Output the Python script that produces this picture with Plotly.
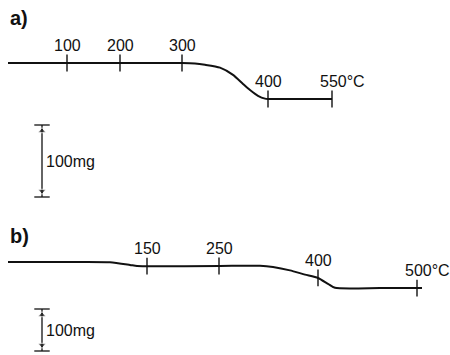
import plotly.graph_objects as go

# ---- thermogravimetric traces (time in min, mass change in mg) ----
# trace a)
a_time = [1.6, 13.4, 24.0, 36.4, 39.0, 41.0, 44.0, 46.6, 48.6, 50.0, 51.6, 53.0, 53.6, 60.0, 66.4]
a_mass = [0.0, 0.0, 0.0, 0.0, -0.7, -2.5, -6.5, -16.5, -29.0, -37.5, -45.5, -49.5, -50.0, -50.0, -50.0]
a_tick_time = [13.4, 24.0, 36.4, 53.6, 66.4]
a_tick_mass = [0.0, 0.0, 0.0, -50.0, -50.0]
a_tick_labels = ["100", "200", "300", "400", "550"]

# trace b)
b_time = [1.6, 12.0, 22.0, 26.0, 27.4, 29.4, 44.0, 52.0, 54.6, 58.0, 61.0, 63.6, 65.6, 67.0, 76.0, 83.4, 84.4]
b_mass = [0.0, 0.0, -0.5, -7.0, -9.5, -10.0, -9.5, -9.0, -12.0, -20.0, -30.0, -38.0, -52.0, -61.5, -62.0, -62.0, -62.0]
b_tick_time = [29.4, 43.8, 63.6, 83.4]
b_tick_mass = [-10.0, -9.5, -38.0, -62.0]
b_tick_labels = ["150", "250", "400", "500"]

scale_bar_mg = 100
unit = "°C"

# ---- page layout (pixels) ----
W, H = 450, 355
SPLIT = 205            # boundary between the two panels
PX_PER_MIN = 5.0
A_ZERO, A_PX_PER_MG = 63.0, 0.72
B_ZERO, B_PX_PER_MG = 262.0, 0.42
A_BAR_TOP, B_BAR_TOP = 125.0, 309.0
BAR_TIME = 8.4

a_range = [-(SPLIT - A_ZERO) / A_PX_PER_MG, A_ZERO / A_PX_PER_MG]
b_range = [-(H - B_ZERO) / B_PX_PER_MG, (B_ZERO - SPLIT) / B_PX_PER_MG]

FONT = "Liberation Sans"
INK = "#111111"

fig = go.Figure()


def add_panel(t, m, tt, tm, labels, yref, zero_px, px_per_mg, bar_top_px):
    fig.add_trace(go.Scatter(
        x=t, y=m, mode="lines", yaxis=yref,
        line=dict(color=INK, width=2, shape="spline", smoothing=0.6),
        hoverinfo="skip", showlegend=False))
    fig.add_trace(go.Scatter(
        x=tt, y=tm, mode="markers", yaxis=yref,
        marker=dict(symbol="line-ns", size=12, line=dict(color=INK, width=1.4)),
        hoverinfo="skip", showlegend=False))
    ax = "y" if yref == "y" else "y2"
    for i, (x, y, lab) in enumerate(zip(tt, tm, labels)):
        last = i == len(labels) - 1
        fig.add_annotation(
            x=x, y=y, xref="x", yref=ax, text=lab + (unit if last else ""),
            showarrow=False, xanchor="left" if last else "center", yanchor="bottom",
            xshift=-14 if last else 0, yshift=7,
            font=dict(family=FONT, size=16, color=INK))
    # 100 mg scale bar
    top = -(bar_top_px - zero_px) / px_per_mg
    bot = top - scale_bar_mg
    fig.add_trace(go.Scatter(
        x=[BAR_TIME, BAR_TIME], y=[top, bot], mode="lines", yaxis=yref,
        line=dict(color=INK, width=1.3), hoverinfo="skip", showlegend=False))
    fig.add_trace(go.Scatter(
        x=[BAR_TIME, BAR_TIME], y=[top, bot], mode="markers", yaxis=yref,
        marker=dict(symbol="line-ew", size=11, line=dict(color=INK, width=1.3)),
        hoverinfo="skip", showlegend=False))
    off = 6 / px_per_mg
    fig.add_trace(go.Scatter(
        x=[BAR_TIME, BAR_TIME], y=[top - off, bot + off], mode="markers", yaxis=yref,
        marker=dict(symbol=["triangle-up", "triangle-down"], size=[7, 7], color=INK),
        hoverinfo="skip", showlegend=False))
    fig.add_annotation(
        x=BAR_TIME, y=(top + bot) / 2, xref="x", yref=ax, text=f"{scale_bar_mg}mg",
        showarrow=False, xanchor="left", yanchor="middle", xshift=2,
        font=dict(family=FONT, size=16, color=INK))


add_panel(a_time, a_mass, a_tick_time, a_tick_mass, a_tick_labels, "y",
          A_ZERO, A_PX_PER_MG, A_BAR_TOP)
add_panel(b_time, b_mass, b_tick_time, b_tick_mass, b_tick_labels, "y2",
          B_ZERO, B_PX_PER_MG, B_BAR_TOP)

for txt, ypx in (("a)", 18), ("b)", 236)):
    fig.add_annotation(
        x=8 / W, y=1 - ypx / H, xref="paper", yref="paper", text=f"<b>{txt}</b>",
        showarrow=False, xanchor="left", yanchor="middle",
        font=dict(family=FONT, size=20, color=INK))

hidden = dict(visible=False, showgrid=False, zeroline=False, fixedrange=True)
fig.update_layout(
    width=W, height=H,
    margin=dict(l=0, r=0, t=0, b=0),
    paper_bgcolor="white", plot_bgcolor="white",
    xaxis=dict(range=[0, W / PX_PER_MIN], **hidden),
    yaxis=dict(domain=[1 - SPLIT / H, 1], range=a_range, **hidden),
    yaxis2=dict(domain=[0, 1 - SPLIT / H], range=b_range, **hidden),
)

fig.write_html("out.html")
